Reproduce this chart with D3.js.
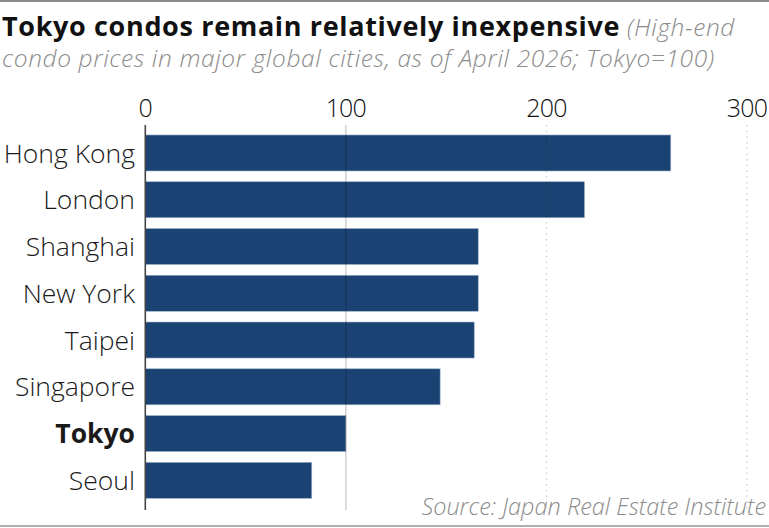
<!DOCTYPE html>
<html>
<head>
<meta charset="utf-8">
<script src="https://cdn.jsdelivr.net/npm/d3@7"></script>
<style>
  body { margin: 0; background: #fff; }
  svg { display: block; font-family: "Open Sans", "Noto Sans", sans-serif; }
</style>
</head>
<body>
<div id="chart"></div>
<script>
const cities = ['Hong Kong', 'London', 'Shanghai', 'New York', 'Taipei', 'Singapore', 'Tokyo', 'Seoul'];
const prices = [262, 219, 166, 166, 164, 147, 100, 83];
const ticks = [0, 100, 200, 300];

const title = 'Tokyo condos remain relatively inexpensive';
const subtitle1 = ' (High-end';
const subtitle2 = 'condo prices in major global cities, as of April 2026; Tokyo=100)';
const source = 'Source: Japan Real Estate Institute';

const width = 769, height = 528;

const svg = d3.select('#chart')
  .append('svg')
  .attr('width', width)
  .attr('height', height);

// frame lines
svg.append('line')
  .attr('x1', 0).attr('x2', width).attr('y1', 1).attr('y2', 1)
  .attr('stroke', '#8a8a8a').attr('stroke-width', 2);
svg.append('line')
  .attr('x1', 0).attr('x2', width).attr('y1', 526).attr('y2', 526)
  .attr('stroke', '#b0b0b0').attr('stroke-width', 2);

// title block
const head = svg.append('text').attr('x', 2).attr('y', 36);
head.append('tspan')
  .text(title)
  .attr('font-size', 27)
  .attr('font-weight', 'bold')
  .attr('letter-spacing', 0.65)
  .attr('fill', '#111');
head.append('tspan')
  .text(subtitle1)
  .attr('font-size', 24.5)
  .attr('font-style', 'italic')
  .attr('font-weight', 300)
  .attr('letter-spacing', 0.6)
  .attr('fill', '#8c8c8c');
svg.append('text')
  .attr('x', 2).attr('y', 67)
  .text(subtitle2)
  .attr('font-size', 24.5)
  .attr('font-style', 'italic')
  .attr('font-weight', 300)
  .attr('letter-spacing', 0.62)
  .attr('fill', '#8c8c8c');

const x = d3.scaleLinear().domain([0, 300]).range([145.3, 747]);
const y = d3.scaleBand().domain(cities).range([129.6, 503.7]).paddingInner(0.23).paddingOuter(0.115);

// bars
svg.selectAll('.bar')
  .data(cities)
  .enter()
  .append('rect')
  .attr('class', 'bar')
  .attr('x', x(0))
  .attr('y', d => y(d))
  .attr('width', (d, i) => x(prices[i]) - x(0))
  .attr('height', y.bandwidth())
  .attr('fill', '#1a4373')
  .attr('stroke', '#9fb3cc')
  .attr('stroke-width', 0.6);

// gridlines on top of bars (dark, see-through, so they darken the bars)
const gridTop = 125, gridBottom = 510;
svg.selectAll('.grid')
  .data(ticks)
  .enter()
  .append('line')
  .attr('class', 'grid')
  .attr('x1', d => x(d)).attr('x2', d => x(d))
  .attr('y1', gridTop).attr('y2', gridBottom)
  .attr('stroke', d => d === 0 ? '#444' : '#000')
  .attr('stroke-opacity', d => d === 0 ? 1 : 0.22)
  .attr('stroke-width', d => d === 0 ? 1.6 : 1.3)
  .attr('stroke-dasharray', d => d >= 200 ? '1.3,4.4' : null);

// tick labels
svg.selectAll('.tick-label')
  .data(ticks)
  .enter()
  .append('text')
  .attr('class', 'tick-label')
  .attr('x', d => x(d))
  .attr('y', 117)
  .attr('text-anchor', 'middle')
  .attr('font-size', 25)
  .attr('font-weight', 300)
  .attr('letter-spacing', -0.8)
  .attr('fill', '#111')
  .text(d => d);

// city labels
svg.selectAll('.city')
  .data(cities)
  .enter()
  .append('text')
  .attr('class', 'city')
  .attr('x', 135)
  .attr('y', d => y(d) + y.bandwidth() / 2)
  .attr('dy', '0.36em')
  .attr('text-anchor', 'end')
  .attr('font-size', 26.5)
  .attr('font-weight', d => d === 'Tokyo' ? 'bold' : 300)
  .attr('fill', '#1a1a1a')
  .text(d => d);

// source
svg.append('text')
  .attr('x', 766).attr('y', 515)
  .attr('text-anchor', 'end')
  .attr('font-size', 23.5)
  .attr('font-style', 'italic')
  .attr('font-weight', 300)
  .attr('fill', '#8c8c8c')
  .text(source);
</script>
</body>
</html>
